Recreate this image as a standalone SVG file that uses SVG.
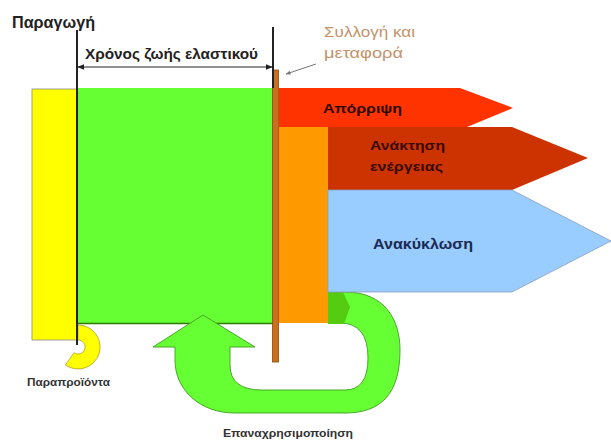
<svg xmlns="http://www.w3.org/2000/svg" width="611" height="442" viewBox="0 0 611 442">
<defs>
<style>
.t{font-family:"Liberation Sans",Arial,sans-serif;font-weight:bold}
.ln{stroke:#222;stroke-width:2;fill:none}
</style>
<marker id="ah" viewBox="0 0 10 10" refX="9" refY="5" markerWidth="6" markerHeight="6" orient="auto-start-reverse"><path d="M0,1 L10,5 L0,9 Z" fill="#222"/></marker>
<marker id="ag" viewBox="0 0 10 10" refX="9" refY="5" markerWidth="5" markerHeight="5" orient="auto"><path d="M0,1 L10,5 L0,9 Z" fill="#777"/></marker>
</defs>
<rect width="611" height="442" fill="#fff"/>

<g id="production">
<rect x="32" y="89" width="45" height="251" fill="#ffff00" stroke="#888" stroke-width="0.8"/>
<text class="t" x="12" y="28" font-size="16" fill="#222" textLength="83" lengthAdjust="spacingAndGlyphs">Παραγωγή</text>
</g>

<g id="byproducts">
<path d="M78,325 A22,22 0 1 1 65.4,365 L74,352.7 A7,7 0 1 0 78,340 Z" fill="#ffff00" stroke="#b0a020" stroke-width="0.8"/>
<text class="t" x="27" y="386" font-size="10" fill="#333" textLength="83" lengthAdjust="spacingAndGlyphs">Παραπροϊόντα</text>
</g>

<g id="lifetime">
<rect x="77" y="88" width="196" height="235" fill="#66ff33"/>
<line x1="77" y1="323.5" x2="273" y2="323.5" stroke="#2f7a00" stroke-width="1.5"/>
<text class="t" x="85" y="59" font-size="15" fill="#222" textLength="173" lengthAdjust="spacingAndGlyphs">Χρόνος ζωής ελαστικού</text>
</g>

<g id="reuse">
<path d="M203,315 L255,347 L230,347 L230,365 Q230,390 262,390 L345,390 Q368,390 368,358 Q368,323 340,323 L328,323 L328,292 L345,292 C385,292 400,320 400,350 C400,395 380,413 345,413 L235,413 C200,413 175,390 175,360 L175,347 L153,347 Z" fill="#66ff33" stroke="#48a828" stroke-width="1"/>
<polygon points="328,292 343,292 350,307 344,324 328,324" fill="#55cc11"/>
<text class="t" x="223" y="437" font-size="10" fill="#333" textLength="130" lengthAdjust="spacingAndGlyphs">Επαναχρησιμοποίηση</text>
</g>

<g id="sorting">
<rect x="279" y="127" width="49" height="196" fill="#ff9900"/>
</g>

<g id="recovery">
<polygon points="328,127 512,127 588,158 512,190 328,190" fill="#cc3300"/>
<text class="t" x="370" y="150" font-size="13" fill="#3a0a00" textLength="75" lengthAdjust="spacingAndGlyphs">Ανάκτηση</text>
<text class="t" x="370" y="171" font-size="13" fill="#3a0a00" textLength="73" lengthAdjust="spacingAndGlyphs">ενέργειας</text>
</g>

<g id="disposal">
<polygon points="279,88 460,88 513,108 467,127 279,127" fill="#ff3300"/>
<text class="t" x="323" y="113" font-size="13" fill="#2a0a00" textLength="79" lengthAdjust="spacingAndGlyphs">Απόρριψη</text>
</g>

<g id="recycling">
<polygon points="328,190 512,190 611,241 512,292 328,292" fill="#99ccff" stroke="#8aa0c0" stroke-width="0.8"/>
<text class="t" x="373" y="249" font-size="14" fill="#1a2a50" textLength="100" lengthAdjust="spacingAndGlyphs">Ανακύκλωση</text>
</g>

<g id="collection">
<rect x="272.5" y="70" width="6" height="292" fill="#c8701e" stroke="#8a4a10" stroke-width="0.8"/>
<text x="324" y="37" font-family="Liberation Sans,Arial,sans-serif" font-size="14" fill="#c4926a" textLength="91" lengthAdjust="spacingAndGlyphs">Συλλογή και</text>
<text x="324" y="58" font-family="Liberation Sans,Arial,sans-serif" font-size="14" fill="#c4926a" textLength="79" lengthAdjust="spacingAndGlyphs">μεταφορά</text>
</g>

<g id="connectors">
<line class="ln" x1="77" y1="30" x2="77" y2="345"/>
<line class="ln" x1="273" y1="27" x2="273" y2="88"/>
<line x1="78" y1="67" x2="272" y2="67" stroke="#222" stroke-width="1.2" marker-start="url(#ah)" marker-end="url(#ah)"/>
<line x1="316" y1="64" x2="286" y2="74" stroke="#777" stroke-width="1" marker-end="url(#ag)"/>
</g>
</svg>
